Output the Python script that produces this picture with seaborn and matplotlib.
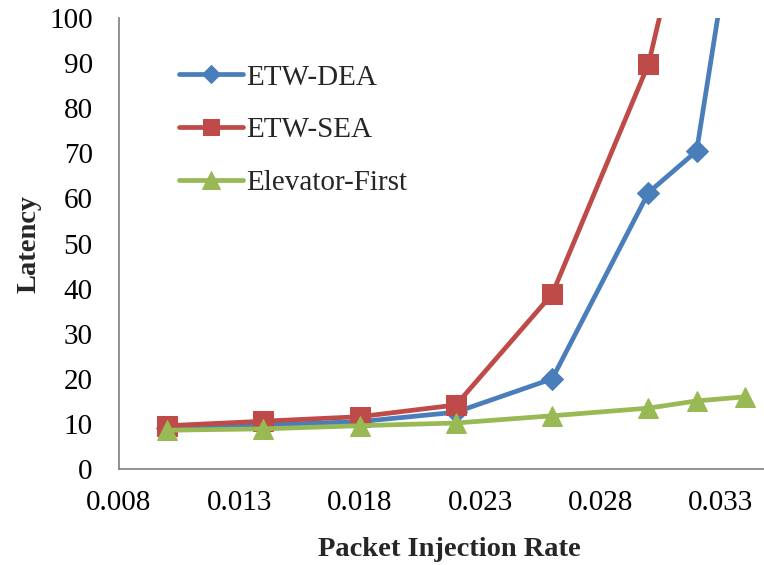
import matplotlib
matplotlib.use("Agg")
import matplotlib.pyplot as plt
import seaborn as sns
import pandas as pd

# Packet injection rates and average latency per routing scheme
rates = [0.010, 0.014, 0.018, 0.022, 0.026, 0.030, 0.032, 0.034]
etw_dea = [9.0, 9.8, 10.5, 12.6, 20.0, 61.3, 70.5, 138.0]
etw_sea = [9.6, 10.6, 11.6, 14.2, 38.8, 89.8, 135.0, None]
elevator_first = [8.6, 8.9, 9.6, 10.2, 11.8, 13.5, 15.1, 16.0]

series_names = ["ETW-DEA", "ETW-SEA", "Elevator-First"]
x_ticks = [0.008, 0.013, 0.018, 0.023, 0.028, 0.033]
x_tick_labels = ["0.008", "0.013", "0.018", "0.023", "0.028", "0.033"]
y_ticks = list(range(0, 101, 10))

colors = {"ETW-DEA": "#4A7EBB", "ETW-SEA": "#BE4B48", "Elevator-First": "#98B954"}
markers = {"ETW-DEA": "D", "ETW-SEA": "s", "Elevator-First": "^"}
msizes = {"ETW-DEA": 11, "ETW-SEA": 14, "Elevator-First": 15}

rows = []
for name, vals in zip(series_names, [etw_dea, etw_sea, elevator_first]):
    for r, v in zip(rates, vals):
        if v is not None:
            rows.append({"rate": r, "latency": v, "scheme": name})
df = pd.DataFrame(rows)

sns.set_style("white")
plt.rcParams["font.family"] = ["Liberation Serif", "DejaVu Serif"]

fig = plt.figure(figsize=(7.64, 5.65), dpi=100)
ax = fig.add_axes([0.1558, 0.1699, 0.8442, 0.7982])

for name in series_names:
    sub = df[df["scheme"] == name]
    sns.lineplot(data=sub, x="rate", y="latency", ax=ax, color=colors[name],
                 marker=markers[name], markersize=msizes[name],
                 markeredgecolor=colors[name], linewidth=3.4,
                 label=name, estimator=None, sort=False, clip_on=True)

ax.set_xlim(0.008, 0.0348)
ax.set_ylim(0, 100)
ax.set_xticks(x_ticks)
ax.set_xticklabels(x_tick_labels)
ax.set_yticks(y_ticks)

for side in ["top", "right"]:
    ax.spines[side].set_visible(False)
for side in ["left", "bottom"]:
    ax.spines[side].set_color("#888888")
    ax.spines[side].set_linewidth(1.3)

ax.tick_params(axis="both", direction="out", length=6, width=1.3,
               color="#888888", labelsize=21, labelcolor="black")
ax.tick_params(axis="y", pad=13)
ax.tick_params(axis="x", pad=9)

ax.set_xlabel("Packet Injection Rate", fontsize=20.5, fontweight="bold")
ax.set_ylabel("Latency", fontsize=20.5, fontweight="bold")
ax.xaxis.set_label_coords(0.512, -0.15)
ax.yaxis.set_label_coords(-0.12, 0.5)

leg = ax.legend(loc="upper left", bbox_to_anchor=(0.07, 0.93), frameon=False,
                fontsize=21, handlelength=2.2, handletextpad=0.1,
                labelspacing=0.9, borderpad=0, markerscale=0.85)

fig.savefig("out.png", dpi=100)
